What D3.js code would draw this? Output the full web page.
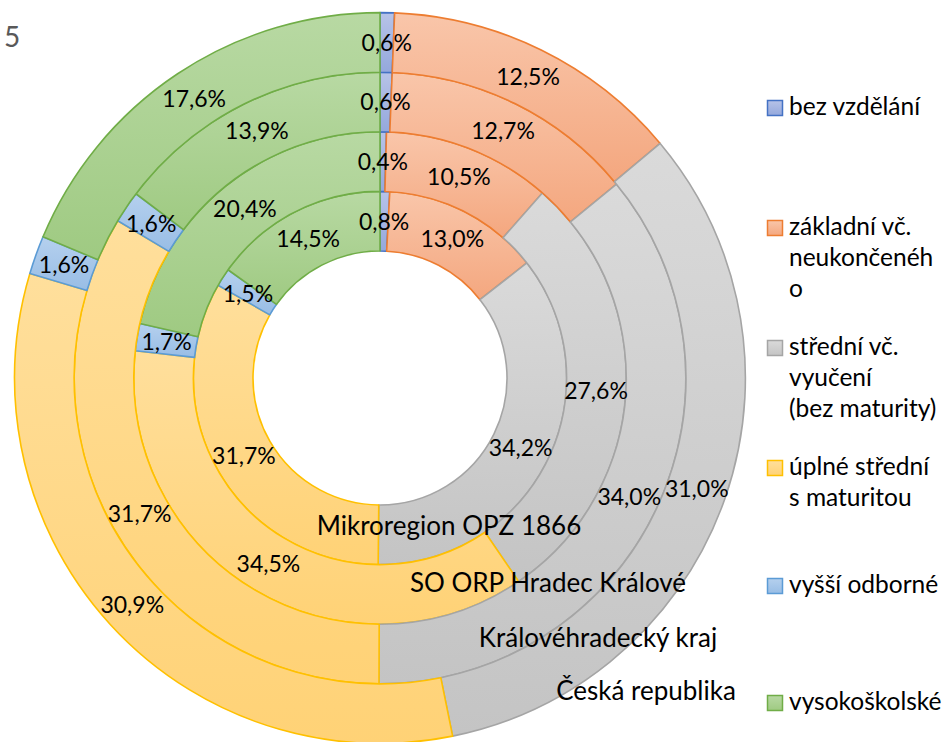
<!DOCTYPE html>
<html>
<head>
<meta charset="utf-8">
<script src="https://cdn.jsdelivr.net/npm/d3@7"></script>
<style>
  body { margin: 0; background: #fff; }
  text { font-family: Lato, "Open Sans", sans-serif; }
</style>
</head>
<body>
<div id="chart"></div>
<script>
// categories (legend order = slice order)
const categories = ["bez vzdělání", "základní vč. neukončeného", "střední vč. vyučení (bez maturity)",
  "úplné střední s maturitou", "vyšší odborné", "vysokoškolské"];
const legendLines = [["bez vzdělání"], ["základní vč.", "neukončenéh", "o"], ["střední vč.", "vyučení", "(bez maturity)"],
  ["úplné střední", "s maturitou"], ["vyšší odborné"], ["vysokoškolské"]];

// series, inner ring to outer ring
const seriesNames = ["Mikroregion OPZ 1866", "SO ORP Hradec Králové", "Královéhradecký kraj", "Česká republika"];
const mikroregion = [0.8, 13.0, 34.2, 31.7, 1.5, 14.5];
const soOrp = [0.4, 10.5, 27.6, 34.5, 1.7, 20.4];
const kraj = [0.6, 12.7, 34.0, 31.7, 1.6, 13.9];
const cr = [0.6, 12.5, 31.0, 30.9, 1.6, 17.6];
const series = [mikroregion, soOrp, kraj, cr];

const fills = [["#b7c3e8", "#94a8dc"], ["#f9c6aa", "#f4a77f"], ["#dadada", "#c4c4c4"],
  ["#ffdf9c", "#ffd276"], ["#b5d0ee", "#98bde5"], ["#b8d9a3", "#9fca82"]];
const strokes = ["#4472c4", "#ed7d31", "#a5a5a5", "#ffc000", "#5b9bd5", "#70ad47"];

const width = 944, height = 742;
const cx = 380, cy = 378;
const inner = 127, ringW = 59.6;
// series name label offsets from centre (text middle, baseline)
const nameOffsets = [[69, 157], [168, 214], [218, 269], [266, 322]];

const svg = d3.select("#chart").append("svg")
  .attr("width", width).attr("height", height);

const defs = svg.append("defs");
fills.forEach((f, i) => {
  const g = defs.append("linearGradient").attr("id", "g" + i)
    .attr("x1", 0).attr("y1", 0).attr("x2", 0).attr("y2", 1);
  g.append("stop").attr("offset", "0%").attr("stop-color", f[0]);
  g.append("stop").attr("offset", "100%").attr("stop-color", f[1]);
});

const pie = d3.pie().sort(null).value(d => d);
const fmt = v => v.toFixed(1).replace(".", ",") + "%";

const g = svg.append("g").attr("transform", `translate(${cx},${cy})`);

series.forEach((vals, s) => {
  const arc = d3.arc().innerRadius(inner + s * ringW).outerRadius(inner + (s + 1) * ringW);
  g.append("g").selectAll("path")
    .data(pie(vals))
    .enter()
    .append("path")
    .attr("d", arc)
    .attr("fill", (d, i) => `url(#g${i})`)
    .attr("stroke", (d, i) => strokes[i])
    .attr("stroke-width", 1.6)
    .attr("stroke-linejoin", "round");
});

// value labels on top of all rings
series.forEach((vals, s) => {
  const arc = d3.arc().innerRadius(inner + s * ringW).outerRadius(inner + (s + 1) * ringW);
  g.append("g").selectAll("text")
    .data(pie(vals))
    .enter()
    .append("text")
    .attr("transform", d => `translate(${arc.centroid(d)})`)
    .attr("text-anchor", "middle")
    .attr("dy", "0.36em")
    .attr("font-size", 23)
    .attr("fill", "#000")
    .text(d => fmt(d.data));
});

// series name labels
g.selectAll(".sname")
  .data(seriesNames)
  .enter()
  .append("text")
  .attr("class", "sname")
  .attr("x", (d, i) => nameOffsets[i][0])
  .attr("y", (d, i) => nameOffsets[i][1])
  .attr("text-anchor", "middle")
  .attr("font-size", 26)
  .attr("fill", "#000")
  .text(d => d);

// stray "5" in the corner
svg.append("text")
  .attr("x", 4).attr("y", 47)
  .attr("font-size", 28)
  .attr("fill", "#595959")
  .text("5");

// legend
const legendY = [115, 235, 355, 475, 593, 710];
const lineH = 31;
const items = svg.append("g").selectAll("g")
  .data(categories)
  .enter()
  .append("g")
  .attr("transform", (d, i) => `translate(767,${legendY[i]})`);

items.append("rect")
  .attr("x", 0.5).attr("y", -14.5)
  .attr("width", 15).attr("height", 15)
  .attr("fill", (d, i) => `url(#g${i})`)
  .attr("stroke", (d, i) => strokes[i])
  .attr("stroke-width", 1.5);

items.append("text")
  .attr("font-size", 24.5)
  .attr("fill", "#000")
  .selectAll("tspan")
  .data((d, i) => legendLines[i])
  .enter()
  .append("tspan")
  .attr("x", 22)
  .attr("y", (d, j) => j * lineH)
  .text(d => d);
</script>
</body>
</html>
